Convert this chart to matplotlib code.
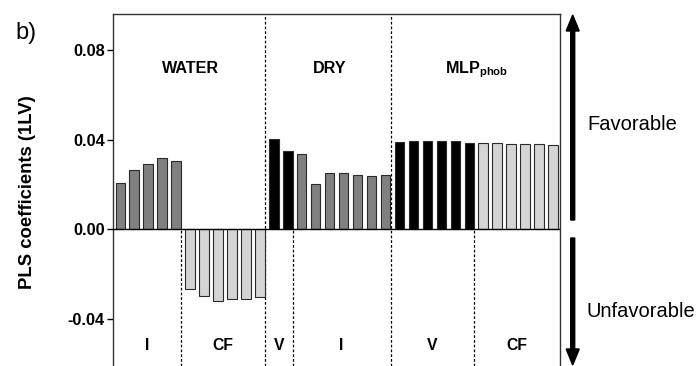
import matplotlib
matplotlib.use("Agg")
import matplotlib.pyplot as plt
from matplotlib.patches import FancyArrow
from matplotlib.transforms import IdentityTransform
import numpy as np

plt.rcParams['font.family'] = ['Liberation Sans', 'DejaVu Sans']
plt.rcParams['mathtext.fontset'] = 'custom'
plt.rcParams['mathtext.rm'] = 'Liberation Sans'
plt.rcParams['mathtext.bf'] = 'Liberation Sans:bold'

# PLS coefficients per descriptor block
water_I = [0.0208, 0.0265, 0.0293, 0.0316, 0.0306]
water_CF = [-0.0267, -0.0297, -0.0319, -0.0313, -0.0313, -0.0303]
dry_V = [0.0404, 0.0347]
dry_I = [0.0338, 0.0201, 0.0253, 0.0249, 0.0243, 0.0237, 0.0243]
mlp_V = [0.0389, 0.0392, 0.0392, 0.0392, 0.0392, 0.0387]
mlp_CF = [0.0387, 0.0387, 0.0381, 0.0381, 0.0381, 0.0376]

groups = ["WATER", "DRY", r"$\mathbf{MLP}_{\mathbf{phob}}$"]
blocks = [
    (0, "I", water_I),
    (0, "CF", water_CF),
    (1, "V", dry_V),
    (1, "I", dry_I),
    (2, "V", mlp_V),
    (2, "CF", mlp_CF),
]
block_colors = {"I": "#808080", "CF": "#d4d4d4", "V": "#000000"}

yticks = [0.08, 0.04, 0.00, -0.04]
ytick_labels = ["0.08", "0.04", "0.00", "-0.04"]

W, H = 696, 366
fig = plt.figure(figsize=(W / 100, H / 100), dpi=100)
ax = fig.add_axes([113.3 / W, 0.0, (560 - 113.3) / W, 1 - 14 / H])

values = np.concatenate([b[2] for b in blocks])
colors = []
for _, name, vals in blocks:
    colors += [block_colors[name]] * len(vals)
x = np.arange(len(values))
ax.bar(x, values, width=0.68, color=colors, edgecolor="#2a2a2a", linewidth=0.8, zorder=2)

ax.set_xlim(-0.5, len(values) - 0.5)
ax.set_ylim(-0.0611, 0.0961)
ax.axhline(0, color="black", linewidth=1.0, zorder=3)

# block separators and labels
ends = np.cumsum([len(b[2]) for b in blocks])
starts = ends - np.array([len(b[2]) for b in blocks])
sep = [e - 1 + 0.36 for e in ends[:-1]]
edges = [-0.5] + sep + [len(values) - 0.5]
ylo, yhi = ax.get_ylim()
for i, s in enumerate(sep):
    new_group = blocks[i + 1][0] != blocks[i][0]
    top = yhi if new_group else 0.0
    ax.plot([s, s], [ylo, top], color="black", linestyle=(0, (2.2, 1.6)),
            linewidth=0.9, zorder=1)
for i, (_, name, _) in enumerate(blocks):
    ax.text((edges[i] + edges[i + 1]) / 2, -0.0538, name, ha="center", va="baseline",
            fontsize=11.3, fontweight="bold")

# group titles
for g, title in enumerate(groups):
    idx = [j for j, b in enumerate(blocks) if b[0] == g]
    lo = starts[idx[0]]
    hi = ends[idx[-1]] - 1
    ax.text((lo + hi) / 2, 0.0697, title, ha="center", va="baseline",
            fontsize=11.6, fontweight="bold")

ax.set_yticks(yticks)
ax.set_yticklabels(ytick_labels, fontsize=11.8, fontweight="bold")
ax.set_xticks([])
ax.tick_params(axis="y", direction="out", length=4, width=1, pad=2)
ax.spines["bottom"].set_visible(False)
for s in ["top", "left", "right"]:
    ax.spines[s].set_linewidth(1.0)
    ax.spines[s].set_color("#333333")
ax.set_ylabel("PLS coefficients (1LV)", fontsize=13.3, fontweight="bold")
ax.yaxis.set_label_coords(-0.172, 0.493)

fig.text(15 / W, 1 - 39 / H, "b)", fontsize=17, ha="left", va="baseline")

# favorable / unfavorable arrows
ident = IdentityTransform()
ax_x = 572.7
fig.patches.append(FancyArrow(ax_x, H - 220, 0, (220 - 15), width=4, head_width=13,
                              head_length=16, length_includes_head=True,
                              color="black", transform=ident, figure=fig))
fig.patches.append(FancyArrow(ax_x, H - 238, 0, -(366 - 238 - 1), width=4, head_width=13,
                              head_length=16, length_includes_head=True,
                              color="black", transform=ident, figure=fig))
fig.text(587 / W, 1 - 130 / H, "Favorable", fontsize=14.5, ha="left", va="baseline")
fig.text(587 / W, 1 - 317 / H, "Unfavorable", fontsize=14.5, ha="left", va="baseline")

fig.savefig("out.png", dpi=100)
